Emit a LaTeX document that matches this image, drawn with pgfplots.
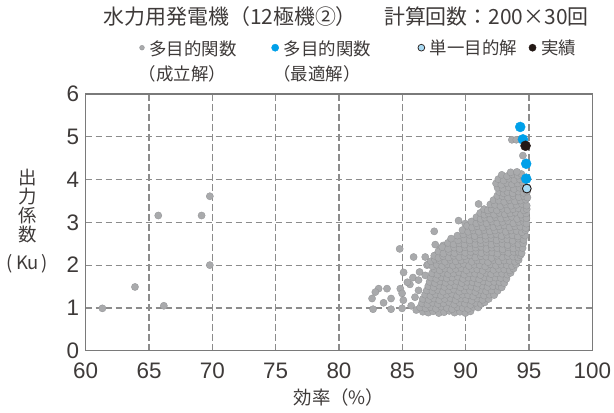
\documentclass[border=0pt]{standalone}
\usepackage{pgfplots}
\pgfplotsset{compat=1.18}
\usepackage{fontspec}
\setmainfont{Noto Sans CJK JP}
\newfontfamily\numfont{Liberation Sans}

\definecolor{dotgray}{HTML}{A9AAAC}
\definecolor{dotedge}{HTML}{949597}
\definecolor{optblue}{HTML}{00A0E9}
\definecolor{singleblue}{HTML}{A9DAF3}
\definecolor{actual}{HTML}{231815}
\definecolor{gridgray}{HTML}{8C8C8C}
\definecolor{framegray}{HTML}{7A7A7A}
\definecolor{textgray}{HTML}{3E3A39}

\begin{document}
\begin{tikzpicture}
\begin{axis}[
  scale only axis,
  width=506.6bp, height=256.7bp,
  xmin=60, xmax=100, ymin=0, ymax=6,
  xtick={60,65,...,100}, ytick={0,1,...,6},
  /pgf/number format/assume math mode=true,
  grid=major,
  major grid style={draw=gridgray, line width=1.2bp, dash pattern=on 6.5bp off 3.5bp},
  axis line style={draw=framegray, line width=1.2bp},
  tick style={draw=none},
  ticklabel style={font=\numfont\fontsize{22.5}{22.5}\selectfont, text=textgray},
  xticklabel style={yshift=-9bp},
  yticklabel style={xshift=-3bp},
  title={水力用発電機（12極機②）\hspace{1.3em}計算回数：200×30回},
  title style={at={(axis description cs:0.514,1)}, anchor=base, yshift=64bp,
    font=\fontsize{21}{22}\selectfont, text=textgray},
  xlabel={効率（\%）},
  xlabel style={at={(axis description cs:0.5,0)}, anchor=center, yshift=-47bp,
    font=\fontsize{18.5}{20}\selectfont, text=textgray},
  ylabel={\begin{tabular}{@{}c@{}}出\\[-3bp]力\\[-3bp]係\\[-3bp]数\\[6bp](\,Ku\,)\end{tabular}},
  ylabel style={at={(axis description cs:-0.115,0.5)}, anchor=center, rotate=-90,
    font=\fontsize{18.5}{22}\selectfont, text=textgray},
  legend style={at={(axis description cs:0.106,1.218)}, anchor=north west,
    draw=none, fill=none, inner sep=0pt, legend columns=4,
    nodes={inner sep=0pt},
    font=\fontsize{17.5}{25}\selectfont, text=textgray,
    /tikz/every odd column/.append style={column sep=5bp},
    /tikz/every even column/.append style={column sep=12bp}},
  legend cell align=left,
  legend image code/.code={\draw[#1] plot coordinates {(0bp,0bp)};},
]

% legend symbols
\addlegendimage{only marks, mark=*, mark size=2.4bp, mark options={fill=dotgray, draw=dotedge, line width=0.4bp}}
\addlegendentry{\begin{tabular}[t]{@{}l@{}}多目的関数\\\hspace*{-0.6em}（成立解）\end{tabular}\hspace*{23bp}}
\addlegendimage{only marks, mark=*, mark size=3.6bp, mark options={fill=optblue, draw=optblue}}
\addlegendentry{\begin{tabular}[t]{@{}l@{}}多目的関数\\\hspace*{-0.6em}（最適解）\end{tabular}\hspace*{35bp}}
\addlegendimage{only marks, mark=*, mark size=3.4bp, mark options={fill=singleblue, draw=actual, line width=0.7bp}}
\addlegendentry{単一目的解}
\addlegendimage{only marks, mark=*, mark size=3.6bp, mark options={fill=actual, draw=actual}}
\addlegendentry{実績}

% feasible solutions of the multi-objective search
\addplot[forget plot, only marks, mark=*, mark size=3.6bp,
  mark options={fill=dotgray, draw=dotedge, line width=0.35bp}] coordinates {
 (61.32,0.99) (63.89,1.49) (66.17,1.05) (65.73,3.16) (69.15,3.16) (69.80,3.61) (69.80,2.00)
 (82.69,0.97) (82.61,1.22) (83.52,1.12) (84.11,1.22) (84.11,0.97) (84.98,0.99)
 (83.13,1.45) (82.87,1.37) (83.79,1.45) (84.84,1.45) (84.98,1.34) (85.08,1.18)
 (85.10,1.83) (85.84,1.71) (86.36,1.84) (86.81,1.76) (86.28,1.65) (86.28,1.41)
 (85.60,1.55) (86.00,1.25) (85.70,1.05) (86.10,0.95) (85.40,1.60)
 (85.89,2.19) (84.79,2.38) (87.60,2.48) (88.23,2.46) (87.52,2.79) (89.44,3.04)
 (89.97,2.97) (91.02,3.43) (86.81,2.19) (87.60,2.23) (86.95,2.00) (88.00,2.38)
 (93.65,4.93) (94.00,4.93) (94.52,4.56)
 (86.62,0.91) (87.05,0.89) (87.43,0.92) (87.88,0.88) (88.30,0.90) (88.71,0.93) (89.12,0.89) (89.55,0.91) (89.98,0.88) (90.38,0.92)
 (86.40,1.01) (86.84,0.99) (87.25,1.02) (87.66,0.98) (88.08,1.03) (88.52,1.00) (88.93,0.97) (89.34,1.02) (89.77,1.00) (90.19,0.98) (90.62,1.02) (90.98,1.01)
 (86.55,1.11) (86.98,1.08) (87.41,1.12) (87.82,1.09) (88.25,1.11) (88.70,1.13) (89.10,1.08) (89.52,1.12) (89.95,1.10) (90.38,1.07) (90.80,1.12) (91.22,1.09) (91.50,1.13)
 (86.62,1.21) (87.08,1.19) (87.50,1.22) (87.92,1.18) (88.35,1.21) (88.80,1.23) (89.21,1.18) (89.63,1.22) (90.05,1.20) (90.48,1.17) (90.90,1.22) (91.33,1.19) (91.82,1.21)
 (86.80,1.31) (87.22,1.28) (87.64,1.32) (88.06,1.29) (88.50,1.31) (88.92,1.33) (89.33,1.28) (89.76,1.31) (90.19,1.30) (90.60,1.27) (91.03,1.32) (91.46,1.29) (91.88,1.31) (92.25,1.30)
 (86.93,1.41) (87.38,1.39) (87.80,1.42) (88.22,1.38) (88.65,1.41) (89.08,1.43) (89.50,1.38) (89.92,1.41) (90.35,1.40) (90.77,1.37) (91.20,1.42) (91.62,1.39) (92.05,1.41) (92.52,1.40)
 (87.05,1.51) (87.48,1.48) (87.90,1.52) (88.33,1.49) (88.76,1.51) (89.18,1.53) (89.60,1.48) (90.03,1.51) (90.46,1.50) (90.88,1.47) (91.31,1.52) (91.73,1.49) (92.16,1.51) (92.62,1.50) (92.85,1.48)
 (87.15,1.61) (87.58,1.58) (88.00,1.62) (88.42,1.59) (88.85,1.61) (89.28,1.63) (89.70,1.58) (90.12,1.61) (90.55,1.60) (90.97,1.57) (91.40,1.62) (91.82,1.59) (92.25,1.61) (92.68,1.60) (93.05,1.58)
 (87.25,1.71) (87.68,1.68) (88.10,1.72) (88.52,1.69) (88.95,1.71) (89.38,1.73) (89.80,1.68) (90.22,1.71) (90.65,1.70) (91.07,1.67) (91.50,1.72) (91.92,1.69) (92.35,1.71) (92.78,1.70) (93.22,1.68)
 (87.35,1.81) (87.78,1.78) (88.20,1.82) (88.62,1.79) (89.05,1.81) (89.48,1.83) (89.90,1.78) (90.32,1.81) (90.75,1.80) (91.17,1.77) (91.60,1.82) (92.02,1.79) (92.45,1.81) (92.88,1.80) (93.30,1.78) (93.55,1.82)
 (87.52,1.91) (87.95,1.88) (88.37,1.92) (88.80,1.89) (89.22,1.91) (89.65,1.93) (90.07,1.88) (90.50,1.91) (90.92,1.90) (91.35,1.87) (91.77,1.92) (92.20,1.89) (92.62,1.91) (93.05,1.90) (93.48,1.88) (93.78,1.92)
 (87.05,2.02) (87.38,1.97)
 (87.72,2.01) (88.15,1.98) (88.57,2.02) (89.00,1.99) (89.42,2.01) (89.85,2.03) (90.27,1.98) (90.70,2.01) (91.12,2.00) (91.55,1.97) (91.97,2.02) (92.40,1.99) (92.82,2.01) (93.25,2.00) (93.67,1.98) (93.98,2.02)
 (87.25,2.09) (87.58,2.13)
 (87.95,2.11) (88.38,2.08) (88.80,2.12) (89.22,2.09) (89.65,2.11) (90.08,2.13) (90.50,2.08) (90.92,2.11) (91.35,2.10) (91.77,2.07) (92.20,2.12) (92.62,2.09) (93.05,2.11) (93.48,2.10) (93.90,2.08) (94.18,2.12)
 (87.52,2.22) (87.85,2.17)
 (88.22,2.21) (88.65,2.18) (89.07,2.22) (89.50,2.19) (89.92,2.21) (90.35,2.23) (90.77,2.18) (91.20,2.21) (91.62,2.20) (92.05,2.17) (92.47,2.22) (92.90,2.19) (93.32,2.21) (93.75,2.20) (94.15,2.18) (94.32,2.23)
 (87.85,2.32) (88.25,2.27)
 (88.70,2.31) (89.12,2.28) (89.55,2.32) (89.97,2.29) (90.40,2.31) (90.82,2.33) (91.25,2.28) (91.67,2.31) (92.10,2.30) (92.52,2.27) (92.95,2.32) (93.37,2.29) (93.80,2.31) (94.20,2.30) (94.42,2.28)
 (88.15,2.42) (88.62,2.38)
 (89.10,2.41) (89.52,2.38) (89.95,2.42) (90.37,2.39) (90.80,2.41) (91.22,2.43) (91.65,2.38) (92.07,2.41) (92.50,2.40) (92.92,2.37) (93.35,2.42) (93.77,2.39) (94.20,2.41) (94.50,2.40)
 (88.60,2.52) (89.05,2.49)
 (89.50,2.51) (89.92,2.48) (90.35,2.52) (90.77,2.49) (91.20,2.51) (91.62,2.53) (92.05,2.48) (92.47,2.51) (92.90,2.50) (93.32,2.47) (93.75,2.52) (94.17,2.49) (94.55,2.51)
 (88.85,2.62) (89.40,2.58)
 (89.90,2.61) (90.32,2.58) (90.75,2.62) (91.17,2.59) (91.60,2.61) (92.02,2.63) (92.45,2.58) (92.87,2.61) (93.30,2.60) (93.72,2.57) (94.15,2.62) (94.58,2.59)
 (89.35,2.69) (89.82,2.72)
 (90.30,2.71) (90.72,2.68) (91.15,2.72) (91.57,2.69) (92.00,2.71) (92.42,2.73) (92.85,2.68) (93.27,2.71) (93.70,2.70) (94.12,2.67) (94.55,2.72) (94.70,2.69)
 (89.75,2.82) (90.20,2.78)
 (90.62,2.81) (91.05,2.78) (91.47,2.82) (91.90,2.79) (92.32,2.81) (92.75,2.83) (93.17,2.78) (93.60,2.81) (94.02,2.80) (94.45,2.77) (94.72,2.82)
 (90.12,2.92) (90.52,2.88)
 (90.92,2.91) (91.35,2.88) (91.77,2.92) (92.20,2.89) (92.62,2.91) (93.05,2.93) (93.47,2.88) (93.90,2.91) (94.32,2.90) (94.75,2.87)
 (90.45,3.02) (90.85,2.98)
 (91.22,3.01) (91.65,2.98) (92.07,3.02) (92.50,2.99) (92.92,3.01) (93.35,3.03) (93.77,2.98) (94.20,3.01) (94.62,3.00) (94.80,2.97)
 (90.85,3.12) (91.18,3.08)
 (91.52,3.11) (91.95,3.08) (92.37,3.12) (92.80,3.09) (93.22,3.11) (93.65,3.13) (94.07,3.08) (94.50,3.11) (94.80,3.10)
 (91.15,3.22) (91.48,3.18)
 (91.82,3.21) (92.25,3.18) (92.67,3.22) (93.10,3.19) (93.52,3.21) (93.95,3.23) (94.37,3.18) (94.78,3.21)
 (91.45,3.31) (91.75,3.28)
 (92.05,3.31) (92.47,3.28) (92.90,3.32) (93.32,3.29) (93.75,3.31) (94.17,3.33) (94.60,3.28) (94.82,3.31)
 (91.95,3.42)
 (92.32,3.41) (92.75,3.38) (93.17,3.42) (93.60,3.39) (94.02,3.41) (94.45,3.43) (94.82,3.39)
 (92.20,3.52)
 (92.62,3.51) (93.05,3.48) (93.47,3.52) (93.90,3.49) (94.32,3.51) (94.75,3.53)
 (92.50,3.62)
 (92.92,3.61) (93.35,3.58) (93.77,3.62) (94.20,3.59) (94.62,3.61) (94.88,3.58)
 (92.65,3.71) (93.00,3.68)
 (93.30,3.71) (93.72,3.68) (94.15,3.72) (94.57,3.69) (94.85,3.72)
 (92.52,3.81) (92.95,3.79) (93.40,3.82) (93.82,3.78) (94.25,3.81) (94.60,3.79)
 (92.40,3.91) (92.82,3.88) (93.25,3.92) (93.67,3.89) (94.10,3.91) (94.52,3.93)
 (92.58,4.01) (93.00,3.98) (93.42,4.02) (93.85,3.99) (94.27,4.01) (94.60,4.03)
 (92.85,4.11) (93.27,4.08) (93.70,4.12) (94.12,4.09) (94.40,4.13)
 (93.55,4.17) (94.05,4.18)
};

% optimal solutions of the multi-objective search
\addplot[forget plot, only marks, mark=*, mark size=5bp,
  mark options={fill=optblue, draw=optblue}] coordinates {
 (94.31,5.23) (94.52,4.94) (94.78,4.37) (94.78,4.02)
};

% single-objective solution
\addplot[forget plot, only marks, mark=*, mark size=4.4bp,
  mark options={fill=singleblue, draw=actual, line width=0.9bp}] coordinates {
 (94.83,3.79)
};

% actual machine
\addplot[forget plot, only marks, mark=*, mark size=5bp,
  mark options={fill=actual, draw=actual}] coordinates {
 (94.73,4.79)
};
\end{axis}
\pgfresetboundingbox
\path[use as bounding box] (current axis.south west) ++(-85.7bp,-62.3bp) rectangle ++(614bp,413bp);
\end{tikzpicture}
\end{document}
